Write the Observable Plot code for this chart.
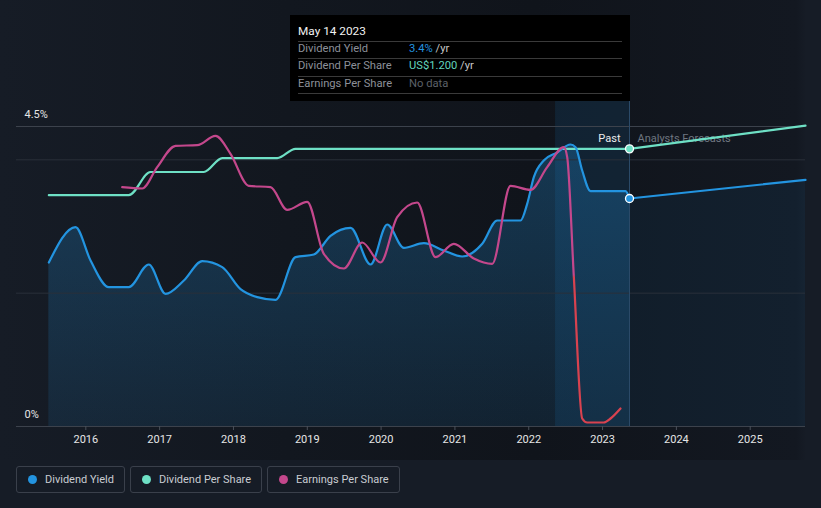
<!DOCTYPE html>
<html><head><meta charset="utf-8">
<script src="https://cdn.jsdelivr.net/npm/d3@7"></script>
<script src="https://cdn.jsdelivr.net/npm/@observablehq/plot@0.6"></script>
<style>
html,body{margin:0;padding:0;background:#161c26;}
body{width:821px;height:508px;position:relative;overflow:hidden;font-family:Roboto,"Noto Sans",sans-serif;}
#chart{position:absolute;left:0;top:0;}
#tip{position:absolute;left:290px;top:15px;width:340px;height:86px;background:#000;font-size:11.2px;}
#tip .t{position:absolute;left:8px;top:9px;color:#f2f2f2;font-size:11.8px;line-height:14px;}
#tip .hr{position:absolute;left:8px;width:324px;height:1px;background:#3a3a3a;}
#tip .l{position:absolute;left:8px;color:#8c9099;line-height:14px;}
#tip .v{position:absolute;left:119px;color:#c8c8c8;line-height:14px;}
#legend{position:absolute;left:16px;top:466px;display:flex;gap:5px;}
#legend .b{box-sizing:border-box;height:27px;border:1px solid #3a404b;border-radius:3px;display:flex;align-items:center;padding:0 10px 0 11px;font-size:11px;color:#c9ccd2;}
#legend .d{width:9px;height:9px;border-radius:50%;margin-right:8px;}
</style></head>
<body>
<div id="chart"></div>
<div id="tip"></div>
<div id="legend"></div>
<svg width="0" height="0" style="position:absolute;left:0;top:0">
  <defs>
    <linearGradient id="areaGrad" x1="0" y1="0" x2="0" y2="1">
      <stop offset="0" stop-color="#2394e0" stop-opacity="0.28"/>
      <stop offset="1" stop-color="#2394e0" stop-opacity="0.11"/>
    </linearGradient>
    <linearGradient id="epsGrad" gradientUnits="userSpaceOnUse" x1="0" y1="0" x2="0" y2="460">
      <stop id="e0" offset="0" stop-color="#c4478c"/>
      <stop id="e1" offset="0.5" stop-color="#c4478c"/>
      <stop id="e2" offset="0.5" stop-color="#d8424f"/>
      <stop id="e3" offset="1" stop-color="#d8424f"/>
    </linearGradient>
  </defs>
</svg>
<script>
// ---- data ----
const xTicks = [2016, 2017, 2018, 2019, 2020, 2021, 2022, 2023, 2024, 2025];
const yTicks = [0, 4.5];          // % labels shown on the axis
const gridLines = [2, 4];
const xDomain = [2015.061, 2025.749];
const yDomain = [0, 4.5];

// Dividend yield (%)
const yieldYears = [2015.499, 2015.860, 2016.064, 2016.312, 2016.582, 2016.853, 2017.080, 2017.328, 2017.577, 2017.848,
  2018.096, 2018.322, 2018.570, 2018.841, 2019.089, 2019.315, 2019.586, 2019.857, 2020.083, 2020.308,
  2020.579, 2020.850, 2021.099, 2021.370, 2021.573, 2021.889, 2021.979, 2022.069, 2022.204, 2022.386,
  2022.566, 2022.634, 2022.724, 2022.837, 2023.311, 2023.365];
const yieldValues = [2.46, 2.99, 2.49, 2.09, 2.09, 2.43, 1.99, 2.19, 2.48, 2.39,
  2.06, 1.94, 1.90, 2.54, 2.58, 2.86, 2.98, 2.43, 3.03, 2.68,
  2.75, 2.64, 2.55, 2.74, 3.09, 3.09, 3.34, 3.74, 3.99, 4.11,
  4.23, 4.19, 3.84, 3.53, 3.53, 3.42];
const yieldForecastYears = [2023.365, 2025.749];
const yieldForecastValues = [3.42, 3.70];

// Dividend per share (US$)
const dpsYears = [2015.499, 2016.582, 2016.876, 2017.598, 2017.848, 2018.593, 2018.841, 2023.365];
const dpsValues = [1.00, 1.00, 1.10, 1.10, 1.16, 1.16, 1.20, 1.20];
const dpsForecastYears = [2023.365, 2025.749];
const dpsForecastValues = [1.20, 1.30];
const dpsAtTopLine = 1.2966;      // DPS value that sits on the 4.5% line

// Earnings per share (relative height on the chart, 0 = baseline)
const epsYears = [2016.493, 2016.764, 2016.967, 2017.215, 2017.509, 2017.757, 2017.960, 2018.208, 2018.502, 2018.728,
  2018.999, 2019.224, 2019.495, 2019.744, 2019.992, 2020.218, 2020.489, 2020.737, 2020.985, 2021.256,
  2021.505, 2021.753, 2022.024, 2022.250, 2022.475, 2022.521, 2022.611, 2022.724, 2022.792, 2023.017,
  2023.108, 2023.243];
const epsValues = [3.59, 3.57, 3.89, 4.21, 4.22, 4.36, 4.09, 3.61, 3.59, 3.25,
  3.37, 2.59, 2.37, 2.76, 2.46, 3.14, 3.36, 2.54, 2.74, 2.52,
  2.44, 3.61, 3.55, 3.89, 4.19, 4.04, 2.24, 0.12, 0.06, 0.06,
  0.12, 0.27];
const epsColorSwitch = 2.28;

const pastStart = 2022.363;
const nowYear = 2023.365;
const seriesNames = ["Dividend Yield", "Dividend Per Share", "Earnings Per Share"];
const seriesColors = ["#2394e0", "#6ee0c5", "#c4478c"];

// ---- build ----
const dpsK = 4.5 / dpsAtTopLine;
const zip = (xs, ys, k = 1) => xs.map((x, i) => ({x, y: ys[i] * k}));
const yieldPast = zip(yieldYears, yieldValues);
const yieldFc = zip(yieldForecastYears, yieldForecastValues);
const dpsPast = zip(dpsYears, dpsValues, dpsK);
const dpsFc = zip(dpsForecastYears, dpsForecastValues, dpsK);
const epsPast = zip(epsYears, epsValues);

const chart = Plot.plot({
  width: 821, height: 460,
  marginLeft: 16, marginRight: 16, marginTop: 126, marginBottom: 34,
  x: {domain: xDomain, label: null},
  y: {domain: yDomain, label: null},
  style: {background: "linear-gradient(to right, #161c26 0%, #12171f 35%, #10141b 65%, #131821 97%, #161c26 98.2%)", color: "#e6e6e6", fontFamily: "Roboto, sans-serif", fontSize: "11px", overflow: "visible"},
  marks: [
    Plot.rect([{x1: pastStart, x2: nowYear}], {x1: "x1", x2: "x2", y1: 0, y2: 4.9, fill: "#1f78c0", fillOpacity: 0.14}),
    Plot.areaY(yieldPast, {x: "x", y: "y", fill: "url(#areaGrad)", curve: "monotone-x"}),
    Plot.areaY(yieldFc, {x: "x", y: "y", fill: "#2394e0", fillOpacity: 0.07}),
    Plot.ruleY(gridLines, {stroke: "#2a303a", strokeWidth: 1}),
    Plot.ruleY([4.5], {stroke: "#3c424c", strokeWidth: 1}),
    Plot.ruleY([0], {stroke: "#3c424c", strokeWidth: 1}),
    Plot.ruleX([nowYear], {y1: 0, y2: 4.9, stroke: "#2b4a68", strokeWidth: 1}),
    Plot.text(["Past"], {x: nowYear, y: 4.32, text: d => d, dx: -9, textAnchor: "end", fill: "#ececec", fontSize: 11}),
    Plot.text(["Analysts Forecasts"], {x: nowYear, y: 4.32, text: d => d, dx: 8, textAnchor: "start", fill: "#6f7681", fontSize: 11}),
    Plot.line(dpsPast, {x: "x", y: "y", stroke: seriesColors[1], strokeWidth: 2.2, curve: "monotone-x"}),
    Plot.line(dpsFc, {x: "x", y: "y", stroke: seriesColors[1], strokeWidth: 2.2}),
    Plot.line(yieldPast, {x: "x", y: "y", stroke: seriesColors[0], strokeWidth: 2.2, curve: "monotone-x"}),
    Plot.line(yieldFc, {x: "x", y: "y", stroke: seriesColors[0], strokeWidth: 2.2}),
    Plot.line(epsPast, {x: "x", y: "y", stroke: "url(#epsGrad)", strokeWidth: 2.2, curve: "monotone-x"}),
    Plot.dot([dpsPast[dpsPast.length - 1]], {x: "x", y: "y", r: 4, fill: seriesColors[1], stroke: "#ffffff", strokeWidth: 1.3}),
    Plot.dot([yieldPast[yieldPast.length - 1]], {x: "x", y: "y", r: 4, fill: seriesColors[0], stroke: "#ffffff", strokeWidth: 1.3}),
    Plot.axisX({ticks: xTicks, tickFormat: d => String(d), tickSize: 4, tickPadding: 5, stroke: "#4a505a", fill: "#e6e6e6", fontSize: 11, label: null}),
    Plot.axisY({ticks: yTicks, tickFormat: d => d + "%", anchor: "left", tickSize: 0, tickPadding: 0, textAnchor: "start", dx: 8, dy: -12, fill: "#e6e6e6", fontSize: 11, label: null})
  ]
});
document.getElementById("chart").appendChild(chart);

// EPS colour switch, placed through the y scale
const ys = chart.scale("y");
const gTop = ys.apply(4.5), gBot = ys.apply(0);
const g = document.getElementById("epsGrad");
g.setAttribute("y1", gTop); g.setAttribute("y2", gBot);
const f = (4.5 - epsColorSwitch) / 4.5;
document.getElementById("e1").setAttribute("offset", f);
document.getElementById("e2").setAttribute("offset", f + 0.01);

// tooltip
const tip = document.getElementById("tip");
tip.innerHTML = `
  <div class="t">May 14 2023</div>
  <div class="hr" style="top:26px"></div>
  <div class="l" style="top:27px">Dividend Yield</div>
  <div class="v" style="top:27px"><span style="color:#2394e0">3.4%</span> /yr</div>
  <div class="hr" style="top:43px"></div>
  <div class="l" style="top:44px">Dividend Per Share</div>
  <div class="v" style="top:44px"><span style="color:#62d6be">US$1.200</span> /yr</div>
  <div class="hr" style="top:61px"></div>
  <div class="l" style="top:62px">Earnings Per Share</div>
  <div class="v" style="top:62px;color:#5c6068">No data</div>
  <div class="hr" style="top:78px"></div>`;

// legend
const legend = document.getElementById("legend");
seriesNames.forEach((n, i) => {
  const b = document.createElement("div"); b.className = "b";
  b.innerHTML = `<span class="d" style="background:${seriesColors[i]}"></span>${n}`;
  legend.appendChild(b);
});
</script>
</body></html>
